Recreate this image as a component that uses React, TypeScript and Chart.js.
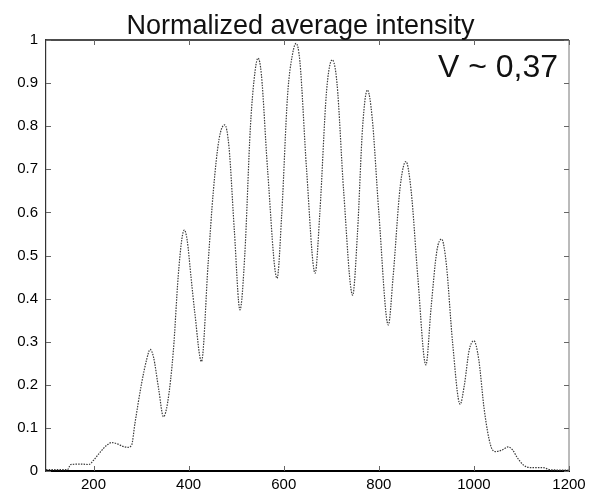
import React, { useEffect, useRef } from "react";
import { Chart, registerables } from "chart.js";

Chart.register(...registerables);

// Position (pixel index along the detector) and normalized average intensity
const positions = [
  100, 145, 152, 175, 190, 200, 215, 228, 238, 250, 262, 272, 280, 287, 301, 312, 319, 326, 337, 347,
  356, 368, 378, 386, 391, 397, 405, 413, 427, 441, 452, 464, 476, 485, 496, 508, 518, 530, 540, 546,
  553, 566, 586, 596, 608, 619, 626, 634, 648, 666, 676, 690, 702, 712, 726, 745, 755, 766, 776, 786,
  800, 820, 830, 845, 857, 868, 882, 899, 910, 922, 932, 942, 955, 971, 980, 990, 1000, 1010, 1022, 1035,
  1045, 1060, 1072, 1082, 1090, 1104, 1118, 1145, 1160, 1200,
];
const intensity = [
  0.003, 0.003, 0.015, 0.016, 0.015, 0.025, 0.045, 0.06, 0.066, 0.063, 0.057, 0.055, 0.06, 0.11, 0.203, 0.26, 0.282, 0.265, 0.19, 0.126,
  0.16, 0.281, 0.451, 0.54, 0.559, 0.535, 0.45, 0.367, 0.254, 0.482, 0.65, 0.77, 0.803, 0.75, 0.56, 0.374, 0.5, 0.8, 0.93, 0.958,
  0.92, 0.7, 0.447, 0.6, 0.87, 0.97, 0.992, 0.95, 0.7, 0.459, 0.6, 0.88, 0.954, 0.9, 0.65, 0.408, 0.55, 0.8, 0.884, 0.82,
  0.6, 0.339, 0.45, 0.66, 0.718, 0.65, 0.45, 0.246, 0.38, 0.51, 0.538, 0.48, 0.3, 0.155, 0.2, 0.28, 0.302, 0.26, 0.14, 0.06,
  0.045, 0.049, 0.056, 0.048, 0.033, 0.014, 0.008, 0.008, 0.003, 0.002,
];

const xTickValues = [200, 400, 600, 800, 1000, 1200];
const yTickValues = [0, 0.1, 0.2, 0.3, 0.4, 0.5, 0.6, 0.7, 0.8, 0.9, 1];

const titleText = "Normalized average intensity";
const annotationText = "V ~ 0,37";

const FONT = "'Liberation Sans', Arial, Helvetica, sans-serif";

const boxAndTicks = {
  id: "boxAndTicks",
  afterDraw(chart: any) {
    const { ctx, chartArea } = chart;
    const { left, right, top, bottom } = chartArea;
    const xs = chart.scales.x;
    const ys = chart.scales.y;
    ctx.save();
    // top and right frame lines
    ctx.strokeStyle = "#111";
    ctx.lineWidth = 1.5;
    ctx.beginPath();
    ctx.moveTo(left, top);
    ctx.lineTo(right, top);
    ctx.stroke();
    ctx.strokeStyle = "#777";
    ctx.lineWidth = 1;
    ctx.beginPath();
    ctx.moveTo(right, top);
    ctx.lineTo(right, bottom);
    ctx.stroke();
    // inward ticks on all four sides
    ctx.strokeStyle = "#666";
    ctx.lineWidth = 1;
    const len = 5;
    ctx.beginPath();
    xs.ticks.forEach((t: any) => {
      const px = Math.round(xs.getPixelForValue(t.value)) + 0.5;
      ctx.moveTo(px, bottom);
      ctx.lineTo(px, bottom - len);
      ctx.moveTo(px, top);
      ctx.lineTo(px, top + len);
    });
    ys.ticks.forEach((t: any) => {
      const py = Math.round(ys.getPixelForValue(t.value)) + 0.5;
      ctx.moveTo(left, py);
      ctx.lineTo(left + len, py);
      ctx.moveTo(right, py);
      ctx.lineTo(right - len, py);
    });
    ctx.stroke();
    // annotation
    ctx.fillStyle = "#111";
    ctx.font = `32px ${FONT}`;
    ctx.textAlign = "right";
    ctx.textBaseline = "alphabetic";
    ctx.fillText(annotationText, right - 11, top + 37);
    ctx.restore();
  },
};

export default function App() {
  const canvasRef = useRef<HTMLCanvasElement | null>(null);

  useEffect(() => {
    if (!canvasRef.current) return;
    const chart = new Chart(canvasRef.current, {
      type: "line",
      data: {
        datasets: [
          {
            data: positions.map((x, i) => ({ x, y: intensity[i] })),
            borderColor: "#3a3a3a",
            borderWidth: 1.2,
            borderDash: [1.5, 1.2],
            pointRadius: 0,
            cubicInterpolationMode: "monotone",
            fill: false,
          },
        ],
      },
      options: {
        responsive: false,
        animation: false,
        layout: { padding: 0 },
        plugins: {
          legend: { display: false },
          tooltip: { enabled: false },
          title: {
            display: true,
            text: titleText,
            color: "#111",
            font: { family: FONT, size: 27, weight: "normal" as any, lineHeight: 1 },
            padding: { top: 13, bottom: 0 },
          },
        },
        scales: {
          x: {
            type: "linear",
            min: 100,
            max: 1200,
            afterBuildTicks: (s: any) => {
              s.ticks = xTickValues.map((v) => ({ value: v }));
            },
            afterFit: (s: any) => {
              s.height = 28;
            },
            grid: { display: false, drawTicks: false },
            border: { display: true, color: "#000", width: 2 },
            ticks: {
              color: "#000",
              padding: 5,
              maxRotation: 0,
              autoSkip: false,
              font: { family: FONT, size: 15 },
              callback: (v: any) => String(v),
            },
          },
          y: {
            type: "linear",
            min: 0,
            max: 1,
            afterBuildTicks: (s: any) => {
              s.ticks = yTickValues.map((v) => ({ value: v }));
            },
            afterFit: (s: any) => {
              s.width = 46;
            },
            grid: { display: false, drawTicks: false },
            border: { display: true, color: "#333", width: 1.2 },
            ticks: {
              color: "#000",
              padding: 8,
              autoSkip: false,
              font: { family: FONT, size: 15 },
              callback: (v: any) => String(+Number(v).toFixed(1)),
            },
          },
          yRight: {
            type: "linear",
            position: "right",
            display: true,
            min: 0,
            max: 1,
            afterFit: (s: any) => {
              s.width = 32;
            },
            grid: { display: false, drawTicks: false },
            border: { display: false },
            ticks: { display: false },
          },
        },
      },
      plugins: [boxAndTicks],
    });
    return () => chart.destroy();
  }, []);

  return (
    <div style={{ position: "fixed", left: 0, top: 0, width: 601, height: 499, background: "#fff" }}>
      <canvas ref={canvasRef} width={601} height={499} />
    </div>
  );
}
